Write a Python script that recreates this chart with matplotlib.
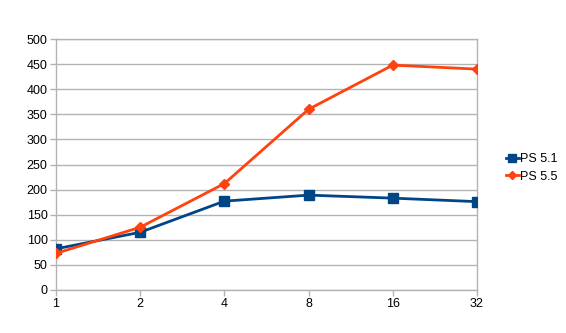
import matplotlib
matplotlib.use("Agg")
import matplotlib.pyplot as plt

categories = ["1", "2", "4", "8", "16", "32"]
ps51 = [82, 115, 177, 189, 183, 176]
ps55 = [73, 125, 212, 360, 448, 440]
yticks = list(range(0, 501, 50))

plt.rcParams['font.family'] = ['Liberation Sans', 'DejaVu Sans']

fig = plt.figure(figsize=(5.66, 3.33), dpi=100)
ax = fig.add_axes([56/566, 1-290/333, (477-56)/566, (290-39)/333])

x = list(range(len(categories)))
grid_c = "#b3b3b3"
ax.plot(x, ps51, color="#004586", lw=2.0, marker="s", ms=7, label="PS 5.1", zorder=3)
ax.plot(x, ps55, color="#ff420e", lw=2.0, marker="D", ms=5.5, label="PS 5.5", zorder=4)

ax.set_xlim(0, len(categories)-1)
ax.set_ylim(0, 500)
ax.set_xticks(x)
ax.set_xticklabels(categories)
ax.set_yticks(yticks)
ax.yaxis.grid(True, color=grid_c, lw=1)
ax.set_axisbelow(True)
for s in ax.spines.values():
    s.set_color(grid_c)
    s.set_linewidth(1)
ax.tick_params(axis='both', colors=grid_c, labelcolor='black', labelsize=9, length=4, width=1)
ax.tick_params(axis='x', pad=1.5)
ax.tick_params(axis='y', pad=2)

leg = fig.legend(loc='center left', bbox_to_anchor=(506/566, 1-168/333), frameon=False,
                 fontsize=9, handlelength=1.0, handletextpad=0.15, labelspacing=0.45,
                 borderaxespad=0, borderpad=0, markerscale=0.75)

fig.savefig("out.png", dpi=100)
